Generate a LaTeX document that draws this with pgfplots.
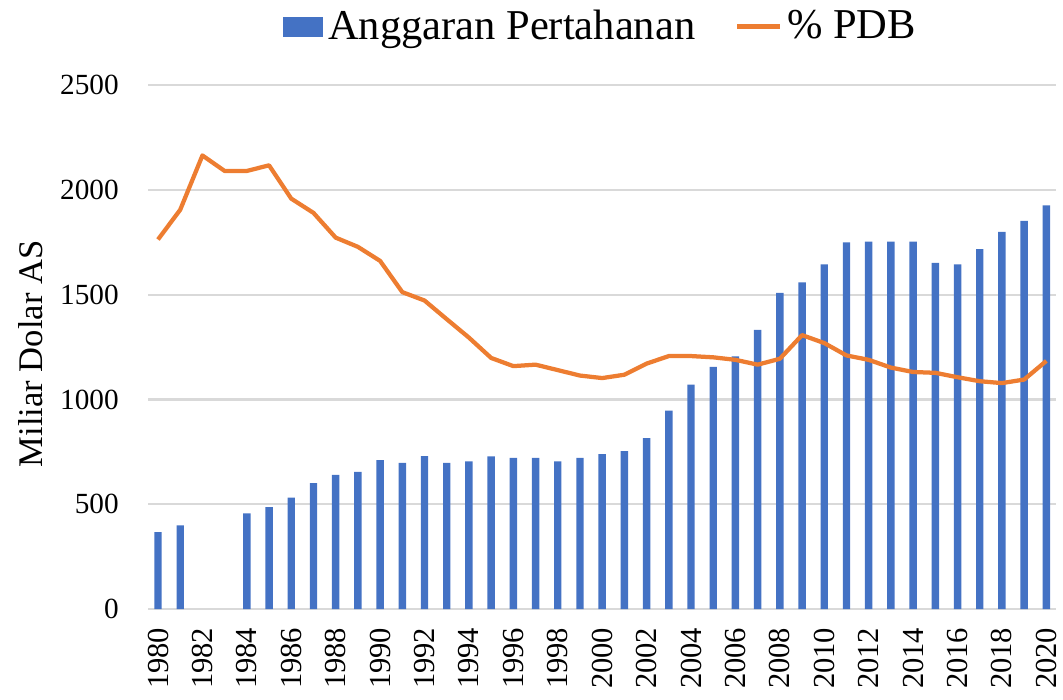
\documentclass[border=0pt]{standalone}
\usepackage{fontspec}
\setmainfont{Liberation Serif}
\usepackage{pgfplots}
\pgfplotsset{compat=1.18}
\usetikzlibrary{calc}
\definecolor{barblue}{HTML}{4472C4}
\definecolor{lineorange}{HTML}{ED7D31}
\definecolor{gridgray}{HTML}{D9D9D9}
\begin{document}
\begin{tikzpicture}
\begin{axis}[
  scale only axis,
  width=341.8pt, height=197.2pt,
  xmin=1979.55, xmax=2020.45,
  ymin=0, ymax=2500,
  ytick={0,500,1000,1500,2000,2500},
  xtick={1980,1982,...,2020},
  /pgf/number format/1000 sep={},
  /pgf/number format/assume math mode=true,
  axis line style={draw=none},
  major tick length=0pt,
  ymajorgrids,
  grid style={gridgray, line width=0.8pt},
  yticklabel style={font=\fontsize{11}{13}\selectfont, xshift=-7.5pt},
  xticklabel style={font=\fontsize{11.5}{13}\selectfont, rotate=90, anchor=east, xshift=-3.5pt},
  ylabel={Miliar Dolar AS},
  ylabel style={font=\fontsize{13}{16}\selectfont, at={(axis description cs:-0.1287,0.487)}, anchor=center},
  legend columns=2,
  legend style={draw=none, fill=none, font=\fontsize{16}{19}\selectfont,
    at={(0.5,1)}, anchor=center, yshift=22pt,
    /tikz/every even column/.append style={column sep=13pt}},
]
\addplot[ybar, fill=barblue, draw=none, bar width=2.8pt,
  legend image code/.code={\fill[barblue] (0pt,-3.75pt) rectangle (15pt,3.75pt);}]
  coordinates {
  (1980,367) (1981,399) (1984,456) (1985,486) (1986,532) (1987,601)
  (1988,640) (1989,655) (1990,710) (1991,698) (1992,730) (1993,698)
  (1994,705) (1995,728) (1996,721) (1997,721) (1998,705) (1999,721)
  (2000,739) (2001,753) (2002,815) (2003,947) (2004,1071) (2005,1155)
  (2006,1205) (2007,1332) (2008,1509) (2009,1558) (2010,1645) (2011,1749)
  (2012,1753) (2013,1753) (2014,1753) (2015,1652) (2016,1645) (2017,1717)
  (2018,1799) (2019,1852) (2020,1926)
  };
\addlegendentry{Anggaran Pertahanan}
\addplot[lineorange, line width=1.6pt, line join=round, no markers,
  legend image code/.code={\draw[lineorange, line width=1.6pt] (0pt,0pt) -- (16pt,0pt);}]
  coordinates {
  (1980,1763) (1981,1905) (1982,2164) (1983,2090) (1984,2090) (1985,2117)
  (1986,1958) (1987,1890) (1988,1772) (1989,1728) (1990,1661) (1991,1512)
  (1992,1472) (1993,1383) (1994,1295) (1995,1198) (1996,1159) (1997,1166)
  (1998,1140) (1999,1114) (2000,1102) (2001,1118) (2002,1171) (2003,1207)
  (2004,1207) (2005,1201) (2006,1189) (2007,1166) (2008,1194) (2009,1307)
  (2010,1269) (2011,1210) (2012,1189) (2013,1152) (2014,1131) (2015,1127)
  (2016,1106) (2017,1087) (2018,1078) (2019,1095) (2020,1184)
  };
\addlegendentry{\% PDB}
\end{axis}
\pgfresetboundingbox
\path[use as bounding box] ($(current axis.south west)+(-55.7pt,-34.2pt)$) rectangle ($(current axis.north east)+(2.5pt,32pt)$);
\end{tikzpicture}
\end{document}
